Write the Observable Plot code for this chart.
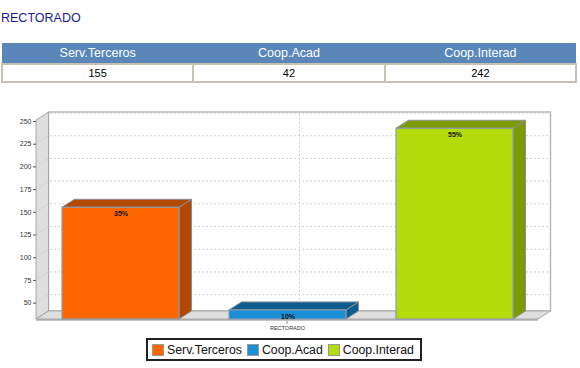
<!DOCTYPE html>
<html>
<head>
<meta charset="utf-8">
<script src="https://cdn.jsdelivr.net/npm/d3@7"></script>
<script src="https://cdn.jsdelivr.net/npm/@observablehq/plot@0.6"></script>
<style>
  html, body { margin: 0; padding: 0; background: #fff; width: 580px; height: 368px; overflow: hidden; font-family: Arial, "Liberation Sans", sans-serif; }
  #title { position: absolute; left: 1px; top: 11px; font-size: 12.5px; color: #1a1a9a; }
  #tbl { position: absolute; left: 1px; top: 43px; width: 576px; border-collapse: collapse; table-layout: fixed; }
  #tbl th { background: #5a86ba; color: #fff; font-weight: normal; font-size: 12.5px; height: 20px; padding: 0; text-align: center; }
  #tbl td { background: #fff; color: #000; font-size: 11px; height: 16px; padding: 0; text-align: center; border: 2px solid #c8c0b2; }
  #chart { position: absolute; left: 0; top: 95px; }
  #legend { position: absolute; left: 146px; top: 338px; width: 270px; height: 19px; border: 2px solid #222; background: #fff; display: flex; align-items: center; padding-left: 2px; font-size: 12.3px; color: #111; white-space: nowrap; }
  .sw { display: inline-block; width: 10px; height: 10px; margin: 0 3px 0 2px; border: 1px solid #999; }
  .it { display: inline-flex; align-items: center; margin-right: 3px; }
</style>
</head>
<body>
<div id="title"></div>
<table id="tbl"><tr id="hdr"></tr><tr id="vals"></tr></table>
<div id="chart"></div>
<div id="legend"></div>
<script>
const chartTitle = "RECTORADO";
const groupLabel = "RECTORADO";
const categories = ["Serv.Terceros", "Coop.Acad", "Coop.Interad"];
const values = [155, 42, 242];
const frontColors = ["#ff6600", "#1a8fd6", "#b4dc0c"];
const sideColors = ["#b34800", "#0e5d8f", "#7c9b02"];
const yTicks = [50, 75, 100, 125, 150, 175, 200, 225, 250];
const yDomain = [32, 250];

const total = d3.sum(values);
const data = categories.map((c, i) => ({cat: c, value: values[i], front: frontColors[i], side: sideColors[i], pct: Math.round(values[i] / total * 100) + "%"}));

document.getElementById("title").textContent = chartTitle;
const hdr = document.getElementById("hdr"), vals = document.getElementById("vals");
data.forEach(d => {
  const th = document.createElement("th"); th.textContent = d.cat; hdr.appendChild(th);
  const td = document.createElement("td"); td.textContent = d.value; vals.appendChild(td);
});
const legend = document.getElementById("legend");
data.forEach(d => {
  const it = document.createElement("span"); it.className = "it";
  const sw = document.createElement("span"); sw.className = "sw"; sw.style.background = d.front;
  it.appendChild(sw); it.appendChild(document.createTextNode(d.cat)); legend.appendChild(it);
});

const DX = 12.5, DY = -8;
const ns = "http://www.w3.org/2000/svg";
function poly(g, pts, fill, stroke, sw, dash) {
  const p = document.createElementNS(ns, "polygon");
  p.setAttribute("points", pts.map(q => q.join(",")).join(" "));
  p.setAttribute("fill", fill);
  if (stroke) { p.setAttribute("stroke", stroke); p.setAttribute("stroke-width", sw || 1); }
  if (dash) p.setAttribute("stroke-dasharray", dash);
  g.appendChild(p);
}
function line(g, x1, y1, x2, y2, stroke, dash, sw) {
  const l = document.createElementNS(ns, "line");
  l.setAttribute("x1", x1); l.setAttribute("y1", y1); l.setAttribute("x2", x2); l.setAttribute("y2", y2);
  l.setAttribute("stroke", stroke); l.setAttribute("stroke-width", sw || 1);
  if (dash) l.setAttribute("stroke-dasharray", dash);
  g.appendChild(l);
}

// walls, floor and grid of the 3D frame, positioned by the y scale
function walls(index, scales, values, dims) {
  const {width, height, marginLeft, marginRight} = dims;
  const y = scales.y;
  const x0 = marginLeft, x1 = width - marginRight;
  const yt = y(yDomain[1]) - 1, yb = y(yDomain[0]);
  const g = document.createElementNS(ns, "g");
  poly(g, [[x0 + DX, yt + DY], [x1 + DX, yt + DY], [x1 + DX, yb + DY], [x0 + DX, yb + DY]], "#fff", "#b8b8b8", 1.5);
  poly(g, [[x0, yt], [x0 + DX, yt + DY], [x0 + DX, yb + DY], [x0, yb]], "#dedede", "#a8a8a8", 1);
  poly(g, [[x0, yb], [x0 + DX, yb + DY], [x1 + DX, yb + DY], [x1, yb]], "#dedede", "#a8a8a8", 1);
  for (const t of yTicks) {
    const yy = y(t);
    line(g, x0 + DX + 2, yy + DY, x1 + DX - 2, yy + DY, "#c4c4c4", "1.5,2.5");
    line(g, x0, yy, x0 + DX, yy + DY, "#c4c4c4", "1.5,2.5");
  }
  const xc = (x0 + x1) / 2;
  line(g, xc + DX, yt + DY + 2, xc + DX, yb + DY, "#c4c4c4", "1.5,2.5");
  line(g, x0, yb + 1, x1, yb + 1, "#888", null, 1.2);
  line(g, xc, yb + 2, xc, yb + 5, "#888", null, 1);
  return g;
}

// top and side faces of the 3D bars, positioned by the x and y scales
function barFaces(index, scales, values, dims) {
  const x = scales.x, y = scales.y;
  const bw = x.bandwidth();
  const g = document.createElementNS(ns, "g");
  const yb = y(yDomain[0]);
  for (const d of data) {
    const bx = x(d.cat), ytop = y(d.value);
    poly(g, [[bx + bw, ytop], [bx + bw + DX, ytop + DY], [bx + bw + DX, yb + DY], [bx + bw, yb]], d.side, "#8a8f98", 1);
    poly(g, [[bx, ytop], [bx + DX, ytop + DY], [bx + bw + DX, ytop + DY], [bx + bw, ytop]], d.side, "#8a8f98", 1);
  }
  return g;
}

const plot = Plot.plot({
  width: 580,
  height: 238,
  marginLeft: 36,
  marginRight: 42,
  marginTop: 26,
  marginBottom: 14,
  style: {fontFamily: "Arial, 'Liberation Sans', sans-serif", background: "transparent"},
  x: {domain: categories, paddingInner: 0.3, paddingOuter: 0.15, axis: null},
  y: {domain: yDomain, axis: null},
  marks: [
    walls,
    barFaces,
    Plot.rectY(data, {x: "cat", y1: yDomain[0], y2: "value", fill: d => d.front, stroke: "#8c9aae", strokeWidth: 1.2}),
    Plot.text(data, {x: "cat", y: "value", text: "pct", dy: 6, fontSize: 7, fontWeight: "bold", fill: "#111"}),
    Plot.axisY({ticks: yTicks, tickSize: 3, tickPadding: 2, fontSize: 7, label: null, stroke: "#555", color: "#333"}),
    Plot.text([groupLabel], {frameAnchor: "bottom", dy: 10, fontSize: 5.5, fill: "#333"})
  ]
});
document.getElementById("chart").appendChild(plot);
</script>
</body>
</html>
